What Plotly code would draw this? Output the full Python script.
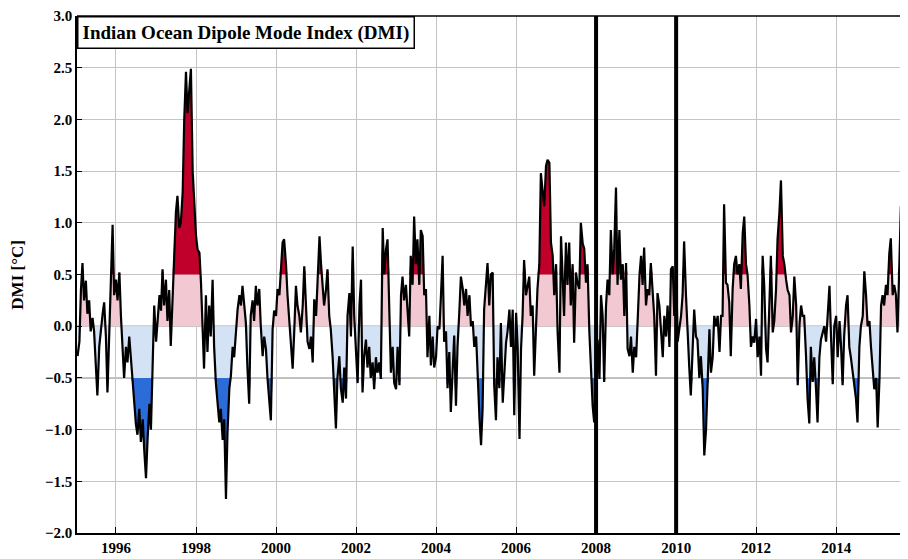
import numpy as np
import pandas as pd
import plotly.graph_objects as go

# ---------------- data (semi-monthly DMI) ----------------
start_date = "1995-01-15"
dmi_1995_1997 = [-0.29, -0.15, 0.35, 0.61, 0.25, 0.44, 0.12, 0.25, -0.05, 0.08,
                 -0.05, -0.35, -0.67, -0.2, -0.02, 0.12, 0.23, -0.1, -0.64, -0.1,
                 0.45, 0.98, 0.3, 0.45, 0.25, 0.52, 0.1, -0.3, -0.5, -0.2,
                 -0.35, -0.1, -0.3, -0.55, -0.75, -0.95, -1.05, -0.8, -1.12, -0.9,
                 -1.2, -1.47, -1.1, -0.75, -1.0, -0.3, 0.2, -0.15, 0.1, 0.3,
                 0.15, 0.55, 0.2, 0.45, 0.05, 0.35, -0.19, 0.3, 0.8, 1.1, 1.26]
dmi_1997_2000 = [0.95, 1.0, 1.3, 2.0, 2.46, 2.06, 2.35, 2.49, 1.5, 1.22,
                 0.87, 0.74, 0.71, 0.42, -0.1, -0.41, 0.3, -0.25, 0.2, -0.1,
                 0.45, -0.2, -0.55, -0.75, -0.93, -0.8, -1.1, -0.9, -1.67, -1.03,
                 -0.6, -0.48, -0.2, -0.3, -0.06, 0.16, 0.3, 0.2, 0.39, 0.25,
                 0.03, -0.4, -0.75, 0.1, 0.25, 0.05, 0.39, 0.2, 0.36, 0.0,
                 -0.29, -0.1, -0.22, -0.5, -0.7, -0.91, -0.03, 0.15, 0.1, 0.36,
                 0.3, 0.6, 0.81]
dmi_2000_2002 = [0.84, 0.6, 0.3, 0.07, -0.2, -0.41, -0.06, 0.39, 0.2, 0.1,
                 -0.06, 0.2, 0.58, 0.13, -0.15, -0.22, -0.1, -0.35, 0.26, 0.1,
                 0.4, 0.87, 0.6, 0.4, 0.2, 0.35, 0.55, 0.1, -0.03, -0.3,
                 -0.61, -0.99, -0.5, -0.29, -0.6, -0.74, -0.4, -0.7, 0.1, 0.32,
                 -0.1, 0.77, 0.1, -0.3, -0.55, 0.2, 0.45, -0.64, -0.3, -0.13,
                 -0.4, -0.2, -0.5, -0.35, -0.61, -0.3, -0.45, -0.35, -0.51, 0.95,
                 0.5, 0.74]
dmi_2002_2005 = [0.84, 0.13, -0.45, -0.2, -0.55, -0.61, -0.2, -0.57, 0.3, 0.48,
                 0.25, 0.4, 0.15, -0.1, 0.68, 0.4, 1.06, 0.6, 0.84, 0.4,
                 0.93, 0.87, 0.3, 0.36, -0.3, 0.1, -0.38, -0.1, -0.4, -0.3,
                 0.0, -0.03, 0.3, 0.68, -0.15, -0.05, -0.6, -0.25, -0.83, -0.4,
                 -0.09, -0.77, -0.2, 0.15, 0.48, 0.36, 0.2, 0.36, 0.1, 0.3,
                 0.0, 0.05, -0.2, -0.1, -0.54, -0.9, -1.15, -0.8, 0.16, 0.4,
                 0.61, 0.2, 0.5]
dmi_2005_2008 = [0.52, -0.57, -0.91, -0.3, -0.6, 0.03, -0.74, -0.4, -0.16, -0.05,
                 0.16, -0.2, 0.16, -0.86, 0.13, -0.2, -1.09, -0.22, 0.1, 0.64,
                 0.3, 0.38, 0.48, 0.1, 0.2, -0.48, 0.1, 0.36, 0.6, 1.48,
                 1.3, 1.16, 1.55, 1.61, 1.58, 0.81, 0.68, 0.3, 0.6, -0.06,
                 -0.45, 0.87, 0.5, 0.1, 0.81, 0.4, 0.81, 0.2, 0.6, -0.16,
                 0.52, 0.42, 0.36, 1.0, 0.8, 0.75, 0.42, 0.6, -0.06, -0.4,
                 -0.77, -0.93]
dmi_2008_2010 = [-0.5, -0.13, -0.51, 0.3, 0.1, -0.54, 0.2, 0.45, 0.3, 0.93,
                 0.5, 0.75, 1.34, 0.4, 0.93, 0.45, 0.6, 0.1, 0.61, -0.22,
                 -0.29, -0.1, -0.45, -0.2, -0.3, 0.1, 0.5, 0.68, 0.4, 0.76,
                 0.2, 0.36, 0.3, 0.61, 0.26, 0.1, -0.48, 0.32, 0.2, -0.06,
                 -0.3, 0.1, -0.1, 0.2, -0.2, 0.55, 0.58, 0.1, 0.55, -0.15,
                 -0.03, 0.1, 0.3, 0.82, 0.3, -0.1, -0.4, -0.67, -0.2, 0.16,
                 -0.1, -0.13, -0.5]
dmi_2010_2013 = [-0.29, -0.61, -1.25, -1.0, -0.6, -0.03, -0.45, -0.3, 0.1, 0.0,
                 0.1, -0.25, 0.1, 0.1, 1.18, 0.42, 0.4, 0.23, -0.29, 0.36,
                 0.6, 0.68, 0.5, 0.6, 0.36, 0.9, 1.06, 0.6, 0.5, 0.2,
                 -0.2, -0.1, -0.16, 0.07, -0.3, -0.1, -0.48, 0.68, 0.4, -0.22,
                 -0.35, 0.2, 0.68, -0.06, 0.05, 0.35, 0.84, 1.1, 1.41, 0.68,
                 0.6, 0.45, 0.35, 0.3, -0.06, 0.1, 0.48, 0.2, -0.57, 0.03,
                 0.2, 0.1]
dmi_2013_2015 = [0.1, -0.29, -0.7, -0.94, -0.2, -0.54, -0.3, -0.6, -0.93, -0.3,
                 -0.13, -0.06, 0.0, -0.15, 0.1, 0.39, -0.1, -0.56, 0.0, 0.1,
                 -0.3, 0.05, -0.2, -0.57, -0.1, 0.2, 0.3, -0.2, -0.3, -0.45,
                 -0.6, -0.7, -0.93, -0.2, 0.0, 0.1, 0.53, 0.3, 0.0, 0.05,
                 -0.2, -0.4, -0.61, -0.5, -0.98, -0.5, 0.2, 0.3, 0.2, 0.4,
                 0.3, 0.7, 0.85, 0.3, 0.4, 0.3, -0.06, 0.6, 1.16, 0.8,
                 1.37, 1.2]
marker_dates = ["2008-01-01", "2010-01-01"]
thresholds = [0.5, -0.5]
title_text = "Indian Ocean Dipole Mode Index (DMI)"
y_label = "DMI [°C]"

# ---------------- build ----------------
dmi = np.array(dmi_1995_1997 + dmi_1997_2000 + dmi_2000_2002 + dmi_2002_2005 +
               dmi_2005_2008 + dmi_2008_2010 + dmi_2010_2013 + dmi_2013_2015)
dates = pd.date_range(start_date, periods=len(dmi), freq="SMS")

PINK = "#f2c9d2"
RED = "#c0002a"
LBLUE = "#d3e2f5"
DBLUE = "#2b6cd9"
FONT = "Liberation Serif"

fig = go.Figure()
noline = dict(width=0)
fig.add_trace(go.Scatter(x=dates, y=np.clip(dmi, 0, thresholds[0]), mode="lines",
                         line=noline, fill="tozeroy", fillcolor=PINK, hoverinfo="skip"))
fig.add_trace(go.Scatter(x=dates, y=np.clip(dmi, thresholds[1], 0), mode="lines",
                         line=noline, fill="tozeroy", fillcolor=LBLUE, hoverinfo="skip"))
fig.add_trace(go.Scatter(x=dates, y=np.full(len(dmi), thresholds[0]), mode="lines",
                         line=noline, hoverinfo="skip"))
fig.add_trace(go.Scatter(x=dates, y=np.maximum(dmi, thresholds[0]), mode="lines",
                         line=noline, fill="tonexty", fillcolor=RED, hoverinfo="skip"))
fig.add_trace(go.Scatter(x=dates, y=np.full(len(dmi), thresholds[1]), mode="lines",
                         line=noline, hoverinfo="skip"))
fig.add_trace(go.Scatter(x=dates, y=np.minimum(dmi, thresholds[1]), mode="lines",
                         line=noline, fill="tonexty", fillcolor=DBLUE, hoverinfo="skip"))
fig.add_trace(go.Scatter(x=dates, y=dmi, mode="lines",
                         line=dict(color="black", width=2.2), hoverinfo="skip"))

for lv, col in [(thresholds[0], "#7a7a7a"), (0, "#a8a8a8"), (thresholds[1], "#7a7a7a")]:
    fig.add_hline(y=lv, line=dict(color=col, width=1.2), layer="below")

for d in marker_dates:
    fig.add_shape(type="line", xref="x", yref="paper", x0=d, x1=d, y0=0, y1=1,
                  line=dict(color="black", width=4))

fig.add_shape(type="line", xref="paper", yref="paper", x0=0, x1=1, y0=1, y1=1,
              line=dict(color="black", width=1.5))

tickfont = dict(family=FONT, size=15, color="black", weight="bold")
fig.update_xaxes(range=["1995-01-10", "2015-10-19"], type="date",
                 tick0="1996-01-01", dtick="M24", tickformat="%Y",
                 showgrid=True, gridcolor="#c4c4c4", gridwidth=1,
                 ticks="inside", ticklen=6, tickcolor="black", tickwidth=1.2,
                 showline=True, linecolor="black", linewidth=1.5,
                 tickfont=tickfont, zeroline=False, ticklabeloverflow="allow")
fig.update_yaxes(range=[-2, 3], dtick=0.5, tick0=0, tickformat=".1f",
                 showgrid=True, gridcolor="#c4c4c4", gridwidth=1,
                 ticks="inside", ticklen=5, tickcolor="black", tickwidth=1.2,
                 showline=True, linecolor="black", linewidth=1.5,
                 tickfont=tickfont, zeroline=False, ticklabeloverflow="allow")

fig.add_annotation(text=title_text, xref="paper", yref="paper", x=0, y=1,
                   xanchor="left", yanchor="top", showarrow=False,
                   font=dict(family=FONT, size=19, color="black", weight="bold"),
                   bgcolor="white", bordercolor="black", borderwidth=1.5, borderpad=4)
fig.add_annotation(text=y_label, xref="paper", yref="paper", x=-0.072, y=0.5,
                   xanchor="center", yanchor="middle", textangle=-90, showarrow=False,
                   font=dict(family=FONT, size=17, color="black", weight="bold"))

# page body has an 8px margin: shift the figure so the plot area lands where the reference has it
fig.update_layout(width=900, height=551, showlegend=False,
                  margin=dict(l=69, r=0, t=6, b=26),
                  plot_bgcolor="white", paper_bgcolor="white")

fig.write_html("out.html")
